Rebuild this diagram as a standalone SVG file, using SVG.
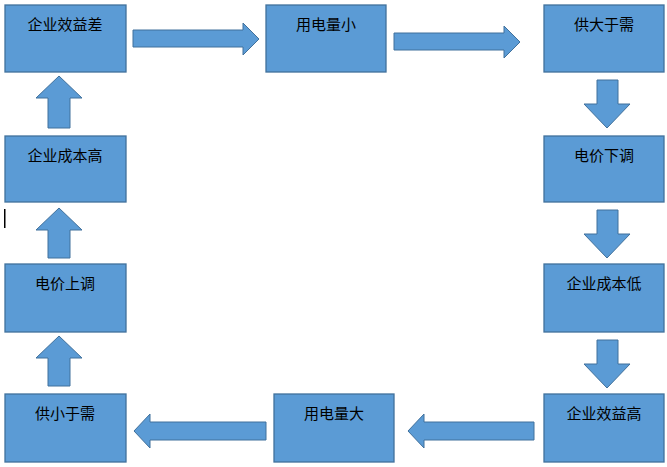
<svg xmlns="http://www.w3.org/2000/svg" width="667" height="467" viewBox="0 0 667 467">
<style>
.b{fill:#5B9BD5;stroke:#41719C;stroke-width:1.3}
.a{fill:#5B9BD5;stroke:#41719C;stroke-width:1}
text{font-family:"Noto Sans CJK SC",sans-serif;font-size:15px;fill:#000;text-anchor:middle}
</style>
<rect width="667" height="467" fill="#fff"/>
<g id="n1"><rect class="b" x="5" y="5" width="121" height="67"/><text x="65" y="30">企业效益差</text></g>
<g id="n2"><rect class="b" x="266" y="5" width="120" height="67"/><text x="326" y="30">用电量小</text></g>
<g id="n3"><rect class="b" x="544" y="5" width="120" height="67"/><text x="604" y="30">供大于需</text></g>
<g id="n4"><rect class="b" x="544" y="136" width="120" height="66"/><text x="604" y="161">电价下调</text></g>
<g id="n5"><rect class="b" x="544" y="264" width="120" height="68"/><text x="604" y="289">企业成本低</text></g>
<g id="n6"><rect class="b" x="544" y="394" width="120" height="68"/><text x="604" y="419">企业效益高</text></g>
<g id="n7"><rect class="b" x="274" y="394" width="120" height="68"/><text x="334" y="419">用电量大</text></g>
<g id="n8"><rect class="b" x="5" y="394" width="121" height="68"/><text x="65" y="419">供小于需</text></g>
<g id="n9"><rect class="b" x="5" y="264" width="121" height="68"/><text x="65" y="289">电价上调</text></g>
<g id="n10"><rect class="b" x="5" y="136" width="121" height="66"/><text x="65" y="161">企业成本高</text></g>
<g id="connectors">
<polygon class="a" points="133,30 243,30 243,23 259,39 243,55 243,47 133,47"/>
<polygon class="a" points="394,33 504,33 504,26 520,42 504,58 504,50 394,50"/>
<polygon class="a" points="597,80 618,80 618,104 630,104 607,128 584,104 597,104"/>
<polygon class="a" points="597,210 618,210 618,234 630,234 607,258 584,234 597,234"/>
<polygon class="a" points="597,340 618,340 618,364 630,364 607,388 584,364 597,364"/>
<polygon class="a" points="534,422 424,422 424,414 408,431 424,448 424,440 534,440"/>
<polygon class="a" points="266,422 150,422 150,414 134,431 150,448 150,440 266,440"/>
<polygon class="a" points="48,386 70,386 70,358 82,358 59,336 36,358 48,358"/>
<polygon class="a" points="48,258 70,258 70,230 82,230 59,208 36,230 48,230"/>
<polygon class="a" points="48,128 70,128 70,98 82,98 59,76 36,98 48,98"/>
</g>
<rect x="4" y="209" width="1.5" height="19" fill="#000"/>
</svg>
